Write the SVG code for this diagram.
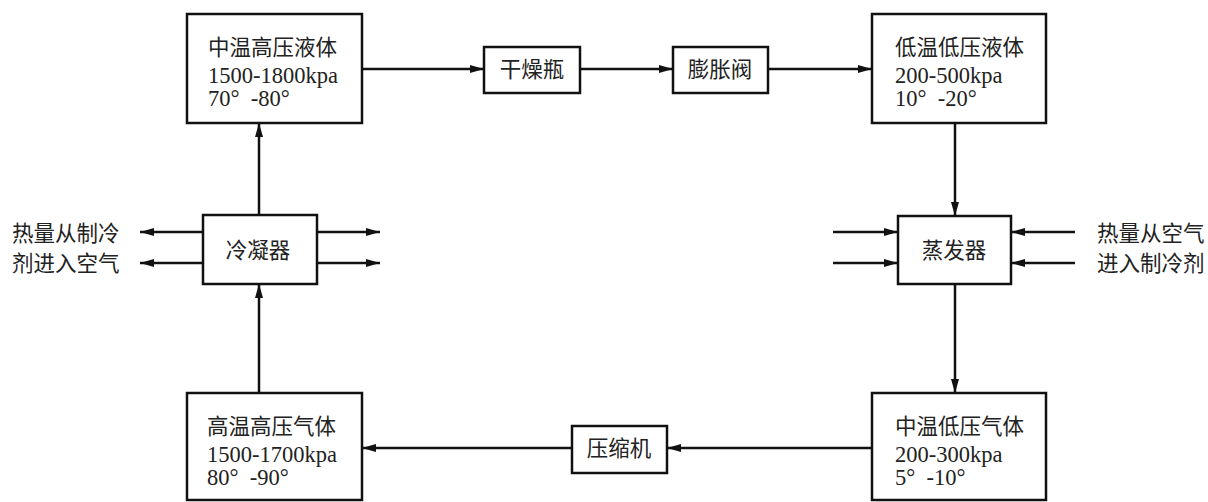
<svg xmlns="http://www.w3.org/2000/svg" width="1208" height="502" viewBox="0 0 1208 502">
<style>
.box{fill:#fff;stroke:#111;stroke-width:2.5}
.t{font-family:"Liberation Serif","Noto Sans CJK SC",serif;font-size:21.5px;fill:#222}
.n{font-size:22.5px}
.c{text-anchor:middle}
.ln{stroke:#111;stroke-width:2.5;fill:none;marker-end:url(#ah)}
</style>
<defs>
<marker id="ah" viewBox="0 0 14 8" refX="14" refY="4" markerWidth="14" markerHeight="8" markerUnits="userSpaceOnUse" orient="auto">
<path d="M0,0 L14,4 L0,8 Z" fill="#111"/>
</marker>
</defs>
<rect width="1208" height="502" fill="#fff"/>
<g id="connectors">
<line class="ln" x1="362" y1="69" x2="484" y2="69"/>
<line class="ln" x1="580" y1="69" x2="673" y2="69"/>
<line class="ln" x1="768" y1="69" x2="872" y2="69"/>
<line class="ln" x1="955" y1="123" x2="955" y2="216"/>
<line class="ln" x1="955" y1="284" x2="955" y2="393"/>
<line class="ln" x1="872" y1="448" x2="667" y2="448"/>
<line class="ln" x1="572" y1="448" x2="362" y2="448"/>
<line class="ln" x1="259" y1="393" x2="259" y2="284"/>
<line class="ln" x1="259" y1="215" x2="259" y2="123"/>
<line class="ln" x1="203" y1="232" x2="140" y2="232"/>
<line class="ln" x1="203" y1="263" x2="140" y2="263"/>
<line class="ln" x1="317" y1="232" x2="380" y2="232"/>
<line class="ln" x1="317" y1="263" x2="380" y2="263"/>
<line class="ln" x1="833" y1="232" x2="898" y2="232"/>
<line class="ln" x1="833" y1="263" x2="898" y2="263"/>
<line class="ln" x1="1075" y1="232" x2="1011" y2="232"/>
<line class="ln" x1="1075" y1="263" x2="1011" y2="263"/>
</g>
<g id="n-liquid-high">
<rect class="box" x="187" y="14" width="175" height="109"/>
<text class="t" x="208" y="55">中温高压液体</text>
<text class="t n" x="208" y="83">1500-1800kpa</text>
<text class="t n" x="208" y="106" xml:space="preserve">70°  -80°</text>
</g>
<g id="n-drier">
<rect class="box" x="484" y="47" width="96" height="46"/>
<text class="t c" x="532" y="77">干燥瓶</text>
</g>
<g id="n-valve">
<rect class="box" x="673" y="47" width="95" height="46"/>
<text class="t c" x="720" y="77">膨胀阀</text>
</g>
<g id="n-liquid-low">
<rect class="box" x="872" y="14" width="174" height="109"/>
<text class="t" x="895" y="55">低温低压液体</text>
<text class="t n" x="895" y="83">200-500kpa</text>
<text class="t n" x="895" y="106" xml:space="preserve">10°  -20°</text>
</g>
<g id="n-condenser">
<rect class="box" x="203" y="215" width="114" height="69"/>
<text class="t c" x="258" y="258">冷凝器</text>
</g>
<g id="n-evaporator">
<rect class="box" x="898" y="216" width="113" height="68"/>
<text class="t c" x="954" y="258">蒸发器</text>
</g>
<g id="n-gas-high">
<rect class="box" x="187" y="393" width="175" height="107"/>
<text class="t" x="207" y="434">高温高压气体</text>
<text class="t n" x="207" y="462">1500-1700kpa</text>
<text class="t n" x="207" y="485" xml:space="preserve">80°  -90°</text>
</g>
<g id="n-compressor">
<rect class="box" x="572" y="426" width="95" height="47"/>
<text class="t c" x="619" y="456">压缩机</text>
</g>
<g id="n-gas-low">
<rect class="box" x="872" y="393" width="174" height="107"/>
<text class="t" x="895" y="434">中温低压气体</text>
<text class="t n" x="895" y="462">200-300kpa</text>
<text class="t n" x="895" y="485" xml:space="preserve">5°  -10°</text>
</g>
<g id="label-left">
<text class="t" x="12" y="241">热量从制冷</text>
<text class="t" x="12" y="271">剂进入空气</text>
</g>
<g id="label-right">
<text class="t" x="1097" y="241">热量从空气</text>
<text class="t" x="1097" y="271">进入制冷剂</text>
</g>
</svg>
